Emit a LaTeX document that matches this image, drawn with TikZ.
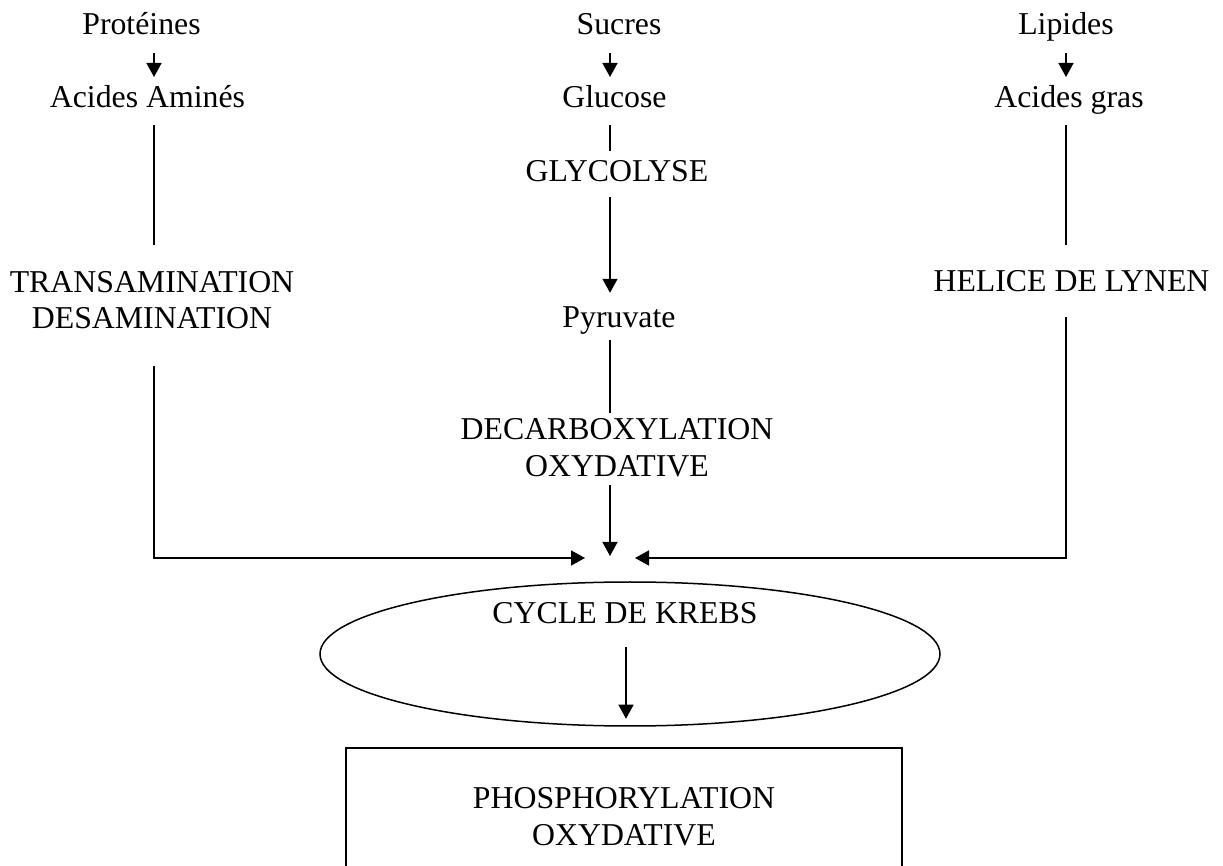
\documentclass[tikz,border=0pt]{standalone}
\usepackage{fontspec}
\setmainfont{Liberation Serif}
\usetikzlibrary{arrows.meta,calc,shapes.geometric}
\tikzset{lbl/.style={inner sep=0pt,font=\fontsize{15.9}{18.3}\selectfont},
         ln/.style={line width=.75pt},
         arr/.style={-{Triangle[length=7pt,width=7.5pt]},line width=.75pt}}

\begin{document}
\begin{tikzpicture}[x=.5pt,y=-.5pt]
  \useasboundingbox (0,0) rectangle (1223,866);
  \clip (0,0) rectangle (1223,866);
  \coordinate (colL) at (154,0);
  \coordinate (colM) at (610,0);
  \coordinate (colR) at (1066,0);
  \coordinate (colK) at (626,0);
  \coordinate (inL) at (585,558);
  \coordinate (inM) at (610,556);
  \coordinate (inR) at (635,558);

  % the three sources
  \node[lbl,anchor=base] (prot) at (141.5,35) {Protéines};
  \node[lbl,anchor=base] (suc) at (619,35) {Sucres};
  \node[lbl,anchor=base] (lip) at (1066,35) {Lipides};
  \node[lbl,anchor=base] (aa) at (147.5,108) {Acides Aminés};
  \node[lbl,anchor=base] (glu) at (614.5,108) {Glucose};
  \node[lbl,anchor=base] (ag) at (1069,108) {Acides gras};

  % pathways
  \node[lbl,anchor=base] (glyco) at (617,182) {GLYCOLYSE};
  \node[lbl,align=center] (trans) at (152,300) {TRANSAMINATION\\DESAMINATION};
  \node[lbl,anchor=base] (helice) at (1071.5,292) {HELICE DE LYNEN};
  \node[lbl,anchor=base] (pyr) at (619,328) {Pyruvate};
  \node[lbl,align=center] (decarb) at (617,448) {DECARBOXYLATION\\OXYDATIVE};

  \node[draw,ellipse,ln,minimum width=310pt,minimum height=72pt] (krebs) at (630,654) {};
  \node[lbl,anchor=base] (kl) at (625,624) {CYCLE DE KREBS};
  \node[lbl,draw,ln,align=center,minimum width=278pt,minimum height=68.5pt]
    (phos) at (624,816.5) {PHOSPHORYLATION\\OXYDATIVE};

  \draw[arr] ($(prot.base -| colL)+(0,18)$) -- ($(aa.base -| colL)+(0,-31)$);
  \draw[arr] ($(suc.base -| colM)+(0,18)$) -- ($(glu.base -| colM)+(0,-31)$);
  \draw[arr] ($(lip.base -| colR)+(0,18)$) -- ($(ag.base -| colR)+(0,-31)$);

  \draw[ln] ($(aa.base -| colL)+(0,17)$) -- ($(trans.north -| colL)+(0,-26)$);
  \draw[ln] ($(ag.base -| colR)+(0,17)$) -- ($(helice.north -| colR)+(0,-26)$);
  \draw[ln] ($(glu.base -| colM)+(0,17)$) -- ($(glyco.north -| colM)+(0,-10)$);
  \draw[arr] ($(glyco.base -| colM)+(0,15)$) -- ($(pyr.north -| colM)+(0,-14)$);
  \draw[ln] ($(pyr.south -| colM)+(0,5)$) -- ($(decarb.north -| colM)+(0,-6)$);

  \draw[arr] ($(trans.south -| colL)+(0,37)$) |- (inL);
  \draw[arr] ($(helice.base -| colR)+(0,25)$) |- (inR);
  \draw[arr] ($(decarb.south -| colM)+(0,8)$) -- (inM);
  \draw[arr] ($(kl.base -| colK)+(0,23)$) -- ($(krebs.south -| colK)+(0,-8)$);
\end{tikzpicture}
\end{document}
